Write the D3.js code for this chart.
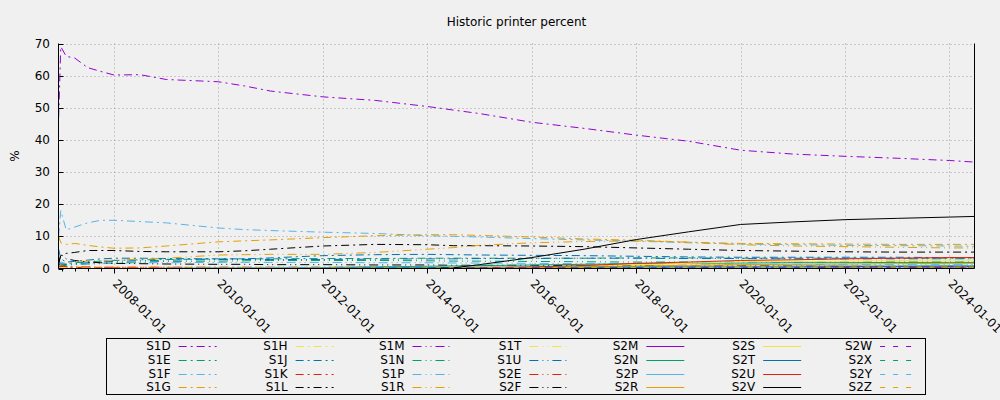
<!DOCTYPE html>
<html>
<head>
<meta charset="utf-8">
<script src="https://cdn.jsdelivr.net/npm/d3@7"></script>
<style>
  html, body { margin: 0; padding: 0; background: #f0f0f0; }
  svg { display: block; font-family: "DejaVu Sans", sans-serif; }
</style>
</head>
<body>
<svg id="chart" width="1000" height="400"></svg>
<script>
// ---------------- DATA ----------------
const title = "Historic printer percent";
const yLabel = "%";
const yTicks = [0, 10, 20, 30, 40, 50, 60, 70];

const dates = ["2006-12-10","2006-12-25","2007-02-01","2007-04-01","2007-07-01","2007-10-01",
  "2008-01-01","2008-07-01","2009-01-01","2010-01-01","2010-07-01","2011-01-01","2012-01-01",
  "2013-01-01","2014-01-01","2014-07-01","2015-01-01","2016-01-01","2017-01-01","2018-01-01",
  "2019-01-01","2020-01-01","2021-01-01","2022-01-01","2023-01-01","2024-01-01","2024-06-24"];

const S1D = [47, 69, 66, 65.5, 62.5, 61.3, 60.2, 60.3, 58.8, 58.1, 56.8, 55.2, 53.4, 52.3, 50.4, 49.3, 48.2, 45.5, 43.6, 41.5, 39.6, 36.8, 35.6, 34.9, 34.3, 33.6, 33.1];
const S1E = [0.5, 1.2, 1.5, 1.8, 2.0, 2.3, 2.5, 2.7, 2.8, 3.0, 3.0, 3.0, 3.1, 3.1, 3.2, 3.2, 3.2, 3.2, 3.2, 3.3, 3.3, 3.2, 3.2, 3.2, 3.2, 3.2, 3.2];
const S1F = [10, 18, 12, 12.9, 14.2, 15, 15, 14.6, 14.2, 12.6, 12.1, 11.8, 11.3, 10.9, 10.2, 10.0, 9.8, 9.3, 8.9, 8.5, 8.0, 7.6, 7.4, 7.2, 7.1, 7.0, 6.9];
const S1G = [10, 8, 7.5, 7.8, 7.2, 6.7, 6.3, 6.4, 7.0, 8.3, 8.6, 8.9, 9.6, 10.2, 10.5, 10.5, 10.3, 9.8, 9.2, 8.8, 8.2, 7.8, 7.7, 7.6, 7.5, 7.5, 7.5];
const S1H = [0.3, 0.8, 0.7, 0.6, 0.6, 0.5, 0.5, 0.5, 0.5, 0.5, 0.5, 0.5, 0.5, 0.5, 0.5, 0.5, 0.5, 0.6, 0.6, 0.7, 0.8, 0.9, 1.0, 1.1, 1.1, 1.2, 1.2];
const S1J = [6, 3, 2, 2.2, 2.6, 3.0, 3.2, 3.2, 3.1, 3.0, 3.0, 3.3, 4.0, 4.3, 4.4, 4.3, 4.2, 4.1, 4.0, 3.8, 3.6, 3.5, 3.5, 3.5, 3.5, 3.4, 3.4];
const S1K = [0.2, 0.5, 0.4, 0.3, 0.3, 0.2, 0.2, 0.2, 0.2, 0.2, 0.2, 0.2, 0.2, 0.2, 0.2, 0.2, 0.2, 0.2, 0.2, 0.2, 0.2, 0.2, 0.2, 0.2, 0.2, 0.2, 0.2];
const S1L = [2, 4, 4.7, 5.0, 5.6, 5.6, 5.6, 5.3, 5.2, 5.2, 5.5, 6.0, 7.0, 7.5, 7.4, 7.1, 7.1, 7.0, 6.8, 6.4, 6.0, 5.6, 5.4, 5.2, 5.1, 5.1, 5.1];
const S1M = [0.2, 0.5, 0.4, 0.3, 0.3, 0.3, 0.3, 0.3, 0.3, 0.3, 0.3, 0.2, 0.2, 0.2, 0.2, 0.2, 0.2, 0.2, 0.2, 0.2, 0.2, 0.2, 0.2, 0.2, 0.2, 0.2, 0.2];
const S1N = [0.3, 0.8, 1.0, 1.2, 1.4, 1.5, 1.7, 2.0, 2.2, 2.3, 2.4, 2.5, 2.5, 2.5, 2.4, 2.3, 2.3, 2.2, 2.1, 2.0, 2.0, 2.0, 2.0, 2.0, 2.0, 2.0, 2.0];
const S1P = [1.0, 2.0, 1.5, 1.4, 1.5, 1.6, 1.7, 1.8, 1.8, 1.9, 1.9, 1.9, 1.9, 1.8, 1.8, 1.7, 1.7, 1.6, 1.5, 1.5, 1.4, 1.3, 1.3, 1.2, 1.2, 1.2, 1.2];
const S1R = [0.5, 1.0, 1.5, 2.0, 2.3, 2.5, 2.6, 2.9, 3.2, 4.2, 4.3, 4.4, 4.4, 5.0, 6.0, 6.5, 7.2, 8.0, 8.4, 8.6, 8.2, 7.4, 7.0, 6.8, 6.6, 6.4, 6.4];
const S1T = [0.2, 0.3, 0.3, 0.3, 0.3, 0.3, 0.3, 0.3, 0.3, 0.3, 0.3, 0.3, 0.3, 0.3, 0.3, 0.3, 0.3, 0.3, 0.3, 0.3, 0.3, 0.3, 0.3, 0.3, 0.3, 0.3, 0.3];
const S1U = [1.0, 1.5, 1.2, 1.5, 1.8, 2.0, 2.2, 2.4, 2.6, 2.8, 2.8, 2.8, 2.8, 2.9, 3.0, 3.0, 3.1, 3.1, 3.2, 3.2, 3.1, 3.1, 3.0, 3.0, 3.0, 3.0, 3.0];
const S2E = [0.5, 0.8, 0.6, 0.5, 0.5, 0.4, 0.4, 0.4, 0.4, 0.4, 0.4, 0.4, 0.4, 0.4, 0.3, 0.3, 0.3, 0.3, 0.3, 0.3, 0.3, 0.3, 0.3, 0.3, 0.3, 0.3, 0.3];
const S2F = [1.0, 4.5, 3.0, 2.5, 2.0, 1.8, 1.6, 1.5, 1.4, 1.3, 1.3, 1.2, 1.2, 1.1, 1.1, 1.0, 1.0, 1.0, 0.9, 0.9, 0.8, 0.8, 0.8, 0.7, 0.7, 0.7, 0.7];
const S2M = [0, 0, 0, 0, 0, 0, 0, 0, 0, 0, 0, 0, 0, 0, 0, 0, 0, 0, 0.05, 0.1, 0.1, 0.1, 0.1, 0.1, 0.1, 0.1, 0.1];
const S2N = [0, 0, 0, 0, 0, 0, 0, 0, 0, 0.1, 0.1, 0.2, 0.3, 0.5, 0.7, 0.8, 0.9, 1.1, 1.3, 1.5, 1.6, 1.7, 1.8, 1.8, 1.9, 1.9, 1.9];
const S2P = [0, 0, 0, 0, 0, 0, 0, 0, 0.1, 0.2, 0.2, 0.3, 0.3, 0.4, 0.4, 0.4, 0.5, 0.5, 0.6, 0.6, 0.7, 0.7, 0.8, 0.8, 0.8, 0.9, 0.9];
const S2R = [0, 0, 0, 0, 0, 0, 0, 0, 0, 0, 0, 0, 0, 0, 0, 0, 0.1, 0.3, 0.6, 0.8, 1.0, 1.2, 1.3, 1.4, 1.5, 1.6, 1.6];
const S2S = [0, 0, 0, 0, 0, 0, 0, 0, 0, 0, 0, 0, 0, 0, 0, 0, 0, 0.3, 0.8, 1.2, 1.6, 2.1, 2.2, 2.3, 2.5, 2.6, 2.6];
const S2T = [0, 0, 0, 0, 0, 0, 0, 0, 0, 0, 0, 0, 0.1, 0.2, 0.2, 0.2, 0.3, 0.3, 0.4, 0.4, 0.5, 0.5, 0.5, 0.6, 0.6, 0.7, 0.7];
const S2U = [0, 0, 0, 0, 0, 0, 0, 0, 0, 0, 0, 0, 0, 0, 0, 0.05, 0.2, 0.5, 0.9, 1.6, 2.0, 2.5, 2.7, 3.0, 3.2, 3.4, 3.4];
const S2V = [0, 0, 0, 0, 0, 0, 0, 0, 0, 0, 0, 0, 0, 0, 0, 0.2, 1.2, 3.4, 6.0, 9.0, 11.4, 13.7, 14.5, 15.2, 15.6, 16.0, 16.2];
const S2W = [0, 0, 0, 0, 0, 0, 0, 0, 0, 0, 0, 0, 0, 0, 0, 0, 0, 0, 0, 0, 0.05, 0.05, 0.05, 0.05, 0.05, 0.05, 0.05];
const S2X = [0, 0, 0, 0, 0, 0, 0, 0, 0, 0, 0, 0, 0, 0.1, 0.1, 0.1, 0.2, 0.2, 0.3, 0.3, 0.4, 0.4, 0.5, 0.5, 0.5, 0.6, 0.6];
const S2Y = [0, 0, 0, 0, 0, 0, 0, 0, 0, 0, 0, 0, 0, 0, 0, 0, 0.1, 0.2, 0.3, 0.4, 0.5, 0.6, 0.7, 0.8, 0.8, 0.9, 0.9];
const S2Z = [0, 0, 0, 0, 0, 0, 0, 0, 0, 0.1, 0.1, 0.1, 0.1, 0.2, 0.2, 0.2, 0.2, 0.2, 0.3, 0.3, 0.3, 0.3, 0.3, 0.4, 0.4, 0.4, 0.4];

const seriesNames = ["S1D","S1E","S1F","S1G","S1H","S1J","S1K","S1L",
                     "S1M","S1N","S1P","S1R","S1T","S1U","S2E","S2F",
                     "S2M","S2N","S2P","S2R","S2S","S2T","S2U","S2V",
                     "S2W","S2X","S2Y","S2Z"];
const seriesValues = [S1D,S1E,S1F,S1G,S1H,S1J,S1K,S1L,
                      S1M,S1N,S1P,S1R,S1T,S1U,S2E,S2F,
                      S2M,S2N,S2P,S2R,S2S,S2T,S2U,S2V,
                      S2W,S2X,S2Y,S2Z];

// ---------------- STYLE ----------------
const palette = ["#9400d3","#009e73","#56b4e9","#e69f00","#f0e442","#0072b2","#e51e10","#000000"];
const dashGroups = ["8,4,2,4", "9,4,1,4,1,4", null, "5,8"];

(function () {
const svg = d3.select("#chart");
const W = 1000, H = 400;
const pL = 58.5, pR = 974.5, pT = 43.5, pB = 268.5;
const parse = d3.utcParse("%Y-%m-%d");
const xDates = dates.map(parse);

const x = d3.scaleUtc()
  .domain([parse("2006-12-09"), parse("2024-06-24")])
  .range([pL, pR]);
const y = d3.scaleLinear().domain([0, 70]).range([pB, pT]);

svg.append("rect").attr("width", W).attr("height", H).attr("fill", "#f0f0f0");

// title
svg.append("text").attr("x", (pL + pR) / 2).attr("y", 22)
  .attr("text-anchor", "middle").attr("dominant-baseline", "central")
  .attr("font-size", 12).attr("fill", "#000").text(title);

// grid
const majorX = d3.utcYear.every(2).range(parse("2008-01-01"), parse("2024-06-01"));
const minorX = d3.utcMonth.every(3).range(parse("2007-01-01"), parse("2024-06-24"));
const grid = svg.append("g").attr("stroke", "#a0a0a0").attr("stroke-width", 1).attr("stroke-dasharray", "1,3");
grid.selectAll("line.gy").data(yTicks.filter(d => d > 0)).join("line")
  .attr("x1", pL).attr("x2", pR)
  .attr("y1", d => Math.round(y(d)) + 0.5).attr("y2", d => Math.round(y(d)) + 0.5);
grid.selectAll("line.gx").data(majorX).join("line")
  .attr("x1", d => Math.round(x(d)) + 0.5).attr("x2", d => Math.round(x(d)) + 0.5)
  .attr("y1", pT).attr("y2", pB);

// y axis ticks and labels (inward ticks)
const yAxis = svg.append("g");
yAxis.selectAll("line").data(yTicks).join("line")
  .attr("x1", pL).attr("x2", pL + 5)
  .attr("y1", d => Math.round(y(d)) + 0.5).attr("y2", d => Math.round(y(d)) + 0.5)
  .attr("stroke", "#000");
yAxis.selectAll("text").data(yTicks).join("text")
  .attr("x", 50).attr("y", d => y(d))
  .attr("text-anchor", "end").attr("dominant-baseline", "central")
  .attr("font-size", 12).attr("fill", "#000").text(d => d);

svg.append("text")
  .attr("transform", `translate(15,${(pT + pB) / 2}) rotate(-90)`)
  .attr("text-anchor", "middle").attr("dominant-baseline", "central")
  .attr("font-size", 12).attr("fill", "#000").text(yLabel);

// x axis ticks (outward) and labels
const xAxis = svg.append("g").attr("stroke", "#000");
xAxis.selectAll("line.mi").data(minorX).join("line")
  .attr("x1", d => Math.round(x(d)) + 0.5).attr("x2", d => Math.round(x(d)) + 0.5)
  .attr("y1", pB).attr("y2", pB + 3);
xAxis.selectAll("line.ma").data(majorX).join("line")
  .attr("x1", d => Math.round(x(d)) + 0.5).attr("x2", d => Math.round(x(d)) + 0.5)
  .attr("y1", pB).attr("y2", pB + 5);
const fmt = d3.utcFormat("%Y-%m-%d");
svg.append("g").selectAll("text").data(majorX).join("text")
  .attr("transform", d => `translate(${x(d) - 2},${pB + 16}) rotate(45)`)
  .attr("text-anchor", "start")
  .attr("font-size", 12).attr("fill", "#000").text(d => fmt(d));

// lines
svg.append("clipPath").attr("id", "clip").append("rect")
  .attr("x", pL).attr("y", pT).attr("width", pR - pL).attr("height", pB - pT);
const line = d3.line().x((d, i) => x(xDates[i])).y(d => y(d));
const plot = svg.append("g").attr("clip-path", "url(#clip)");
seriesValues.forEach((vals, i) => {
  const dash = dashGroups[Math.floor(i / 8)];
  plot.append("path").datum(vals)
    .attr("d", line)
    .attr("fill", "none")
    .attr("stroke", palette[i % 8])
    .attr("stroke-width", 1)
    .attr("stroke-dasharray", dash);
});

// border: left, bottom, right
svg.append("path")
  .attr("d", `M${pL},${pT}V${pB}H${pR}V${pT}`)
  .attr("fill", "none").attr("stroke", "#000").attr("stroke-width", 1);

// legend
const lg = svg.append("g");
lg.append("rect").attr("x", 106.5).attr("y", 338.5).attr("width", 819).attr("height", 56)
  .attr("fill", "none").attr("stroke", "#000");
seriesNames.forEach((name, i) => {
  const col = Math.floor(i / 4), row = i % 4;
  const tx = 170.7 + col * 116.9;
  const ty = 345.7 + row * 13.9;
  lg.append("text").attr("x", tx).attr("y", ty)
    .attr("text-anchor", "end").attr("dominant-baseline", "central")
    .attr("font-size", 12).attr("fill", "#000").text(name);
  lg.append("line")
    .attr("x1", tx + 8).attr("x2", tx + 46)
    .attr("y1", Math.round(ty) + 0.5).attr("y2", Math.round(ty) + 0.5)
    .attr("stroke", palette[i % 8]).attr("stroke-width", 1)
    .attr("stroke-dasharray", dashGroups[Math.floor(i / 8)]);
});
})();
</script>
</body>
</html>
